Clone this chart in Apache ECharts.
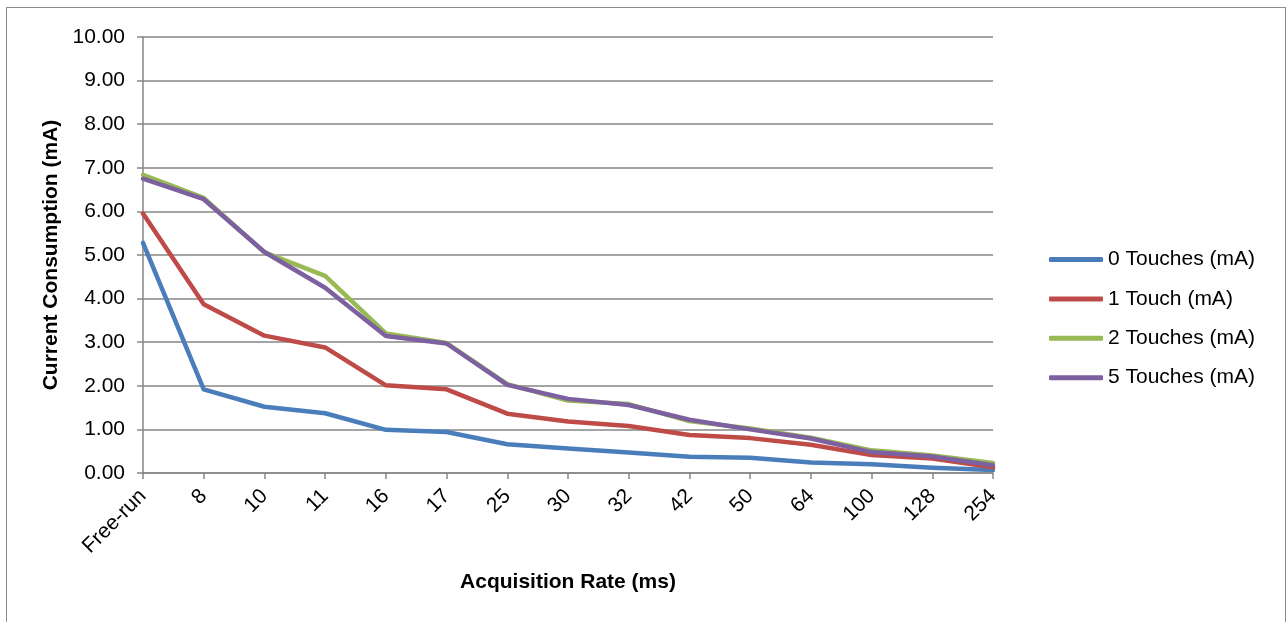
<!DOCTYPE html>
<html>
<head>
<meta charset="utf-8">
<script src="https://cdn.jsdelivr.net/npm/echarts@6/dist/echarts.min.js"></script>
<style>
html,body{margin:0;padding:0;background:#fff;}
#frame{position:absolute;left:6px;top:7px;width:1280px;height:620px;border:1px solid #8c8c8c;box-sizing:border-box;}
#chart{position:absolute;left:0;top:0;width:1286px;height:622px;}
</style>
</head>
<body>
<div id="frame"></div>
<div id="chart"></div>
<script>
const categories = ['Free-run','8','10','11','16','17','25','30','32','42','50','64','100','128','254'];
const touches0 = [5.28,1.92,1.52,1.37,0.99,0.94,0.66,0.56,0.47,0.37,0.35,0.24,0.20,0.12,0.07];
const touches1 = [5.95,3.87,3.15,2.88,2.01,1.92,1.36,1.18,1.08,0.87,0.80,0.65,0.41,0.33,0.13];
const touches2 = [6.84,6.31,5.06,4.52,3.20,2.98,2.04,1.66,1.58,1.19,1.02,0.81,0.52,0.40,0.23];
const touches5 = [6.75,6.28,5.07,4.25,3.14,2.97,2.02,1.70,1.56,1.22,1.00,0.79,0.48,0.38,0.18];
const seriesNames = ['0 Touches (mA)','1 Touch (mA)','2 Touches (mA)','5 Touches (mA)'];
const colors = ['#4A7EBB','#BE4B48','#98B954','#7D60A0'];

const chart = echarts.init(document.getElementById('chart'), null, {renderer:'canvas'});
const fam = '"Liberation Sans", Arial, sans-serif';
const fs = 21;
const mk = (name, data, color) => ({
  name, type:'line', data, showSymbol:false, symbol:'none',
  lineStyle:{width:4.5, color, cap:'round', join:'round'}, itemStyle:{color}
});
chart.setOption({
  animation:false,
  textStyle:{fontFamily:fam},
  grid:{left:143, right:293, top:37, bottom:149, containLabel:false},
  legend:{
    orient:'vertical', left:1044, top:244,
    icon:'roundRect', itemWidth:54, itemHeight:5, itemGap:18.4,
    textStyle:{fontSize:fs, color:'#000', fontFamily:fam},
    data:seriesNames
  },
  xAxis:{
    type:'category', data:categories, boundaryGap:false,
    name:'Acquisition Rate (ms)', nameLocation:'middle', nameGap:99,
    nameTextStyle:{fontSize:fs, fontWeight:'bold', color:'#000', fontFamily:fam},
    axisLine:{lineStyle:{color:'#868686', width:1.5}},
    axisTick:{show:true, length:6, alignWithLabel:true, lineStyle:{color:'#868686', width:1.5}},
    axisLabel:{rotate:45, fontSize:fs, color:'#000', margin:20, interval:0, fontFamily:fam},
    splitLine:{show:false}
  },
  yAxis:{
    type:'value', min:0, max:10, interval:1,
    name:'Current Consumption (mA)', nameLocation:'middle', nameGap:81,
    nameTextStyle:{fontSize:fs, fontWeight:'bold', color:'#000', fontFamily:fam},
    axisLine:{show:true, lineStyle:{color:'#868686', width:1.5}},
    axisTick:{show:true, length:6, lineStyle:{color:'#868686', width:1.5}},
    axisLabel:{fontSize:fs, color:'#000', margin:18, formatter:v=>v.toFixed(2), fontFamily:fam},
    splitLine:{show:true, lineStyle:{color:'#868686', width:1.5}}
  },
  series:[
    mk(seriesNames[0], touches0, colors[0]),
    mk(seriesNames[1], touches1, colors[1]),
    mk(seriesNames[2], touches2, colors[2]),
    mk(seriesNames[3], touches5, colors[3])
  ]
});
</script>
</body>
</html>
